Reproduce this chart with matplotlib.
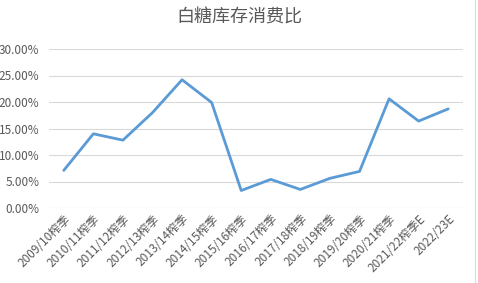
import matplotlib
matplotlib.use("Agg")
import matplotlib.pyplot as plt
from matplotlib.lines import Line2D
from matplotlib.ticker import PercentFormatter

plt.rcParams['font.family'] = ['Noto Sans CJK SC', 'DejaVu Sans']

# seasons and stock-to-use ratio (%)
seasons = ['2009/10榨季', '2010/11榨季', '2011/12榨季', '2012/13榨季', '2013/14榨季',
           '2014/15榨季', '2015/16榨季', '2016/17榨季', '2017/18榨季', '2018/19榨季',
           '2019/20榨季', '2020/21榨季', '2021/22榨季E', '2022/23E']
ratio = [7.1, 14.0, 12.8, 18.0, 24.2, 19.9, 3.3, 5.4, 3.5, 5.6, 6.9, 20.6, 16.4, 18.7]

fig = plt.figure(figsize=(4.78, 2.83), dpi=100)
ax = fig.add_axes([49 / 478, 1 - 208 / 283, 414 / 478, 159 / 283])

x = range(len(seasons))
ax.plot(x, ratio, color='#5B9BD5', linewidth=2.0, solid_capstyle='round', zorder=3)

ax.set_ylim(0, 30)
ax.set_yticks([0, 5, 10, 15, 20, 25, 30])
ax.yaxis.set_major_formatter(PercentFormatter(decimals=2))
ax.set_xlim(-0.5, len(seasons) - 0.5)
ax.set_xticks(list(x))
ax.set_xticklabels(seasons, rotation=45, ha='right', rotation_mode='anchor')

ax.grid(axis='y', color='#D9D9D9', linewidth=0.8)
ax.set_axisbelow(True)
for s in ax.spines.values():
    s.set_visible(False)
ax.tick_params(axis='both', length=0, labelsize=8.5, colors='#595959')
ax.tick_params(axis='y', pad=7)
ax.tick_params(axis='x', pad=3)

fig.text(0.5, 1 - 18 / 283, '白糖库存消费比', ha='center', va='center',
         fontsize=13, color='#595959')

# thin chart border on the right
fig.add_artist(Line2D([475 / 478, 475 / 478], [0, 1], color='#D9D9D9', linewidth=0.8))

fig.savefig('out.png', dpi=100)
